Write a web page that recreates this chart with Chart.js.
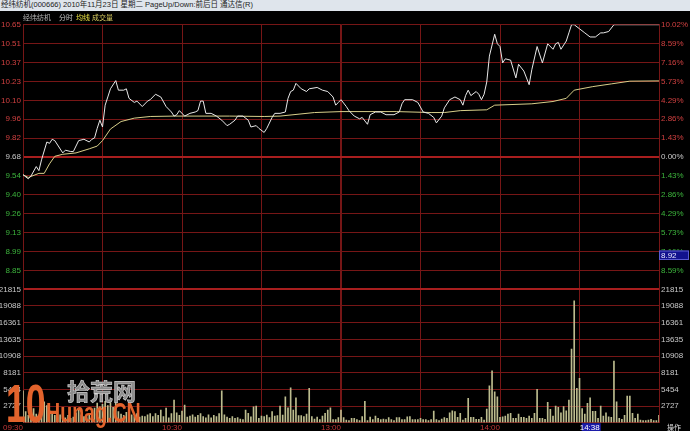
<!DOCTYPE html>
<html>
<head>
<meta charset="utf-8">
<script src="https://cdn.jsdelivr.net/npm/chart.js@4"></script>
<style>
  html, body { margin: 0; padding: 0; background: #000; }
  #wrap { position: relative; width: 690px; height: 431px; overflow: hidden; background: #000; }
  #titlebar { position: absolute; left: 0; top: 0; width: 690px; height: 11px; background: #dfe5ec;
    color: #222; font: 7.5px 'Liberation Sans', 'Noto Sans CJK SC', sans-serif; line-height: 10px; white-space: nowrap; }
  #titlebar span { padding-left: 1px; }
  .lg { position: absolute; top: 13px; font: 7px 'Noto Sans CJK SC', sans-serif; line-height: 9px; white-space: nowrap; }
  canvas { position: absolute; left: 0; }
</style>
</head>
<body>
<div id="wrap">
  <canvas id="vol" width="690" height="151" style="top:280px"></canvas>
  <canvas id="price" width="690" height="290" style="top:11px"></canvas>
  <div id="titlebar"><span>经纬纺机(000666) 2010年11月23日 星期二 PageUp/Down:前后日 通达信(R)</span></div>
  <div class="lg" style="left:23px;color:#b4b4b4">经纬纺机</div>
  <div class="lg" style="left:59px;color:#c4c4c4">分时</div>
  <div class="lg" style="left:76px;color:#e8e040">均线</div>
  <div class="lg" style="left:92px;color:#d8cc60">成交量</div>
</div>
<script>
'use strict';

// minutes from 09:30 (0..240, lunch break removed)
const priceMin = [0, 2, 3, 5, 6, 7, 9, 10, 11, 12, 15, 16, 18, 19, 21, 23, 25, 26, 27, 28,
  29, 30, 31, 32, 33, 35, 36, 38, 39, 40, 42, 43, 45, 47, 48, 50, 52, 54, 56, 57,
  58, 59, 61, 63, 65, 66, 67, 68, 69, 71, 73, 75, 77, 78, 80, 81, 83, 85, 86, 88,
  89, 91, 92, 94, 95, 97, 99, 100, 101, 102, 103, 105, 107, 108, 111, 113, 115, 117, 118, 119,
  120, 122, 123, 125, 127, 128, 130, 131, 133, 135, 137, 140, 142, 143, 144, 147, 149, 151, 153, 155,
  156, 158, 159, 161, 163, 165, 166, 167, 168, 169, 171, 172, 173, 174, 175, 176, 178, 179, 180, 181,
  182, 184, 186, 187, 189, 191, 192, 194, 196, 198, 200, 201, 202, 203, 205, 206, 207, 208, 210, 212,
  214, 216, 218, 219, 221, 223, 240];
const priceVal = [9.55, 9.52, 9.54, 9.61, 9.58, 9.66, 9.79, 9.78, 9.81, 9.80, 9.71, 9.73, 9.72, 9.72, 9.80, 9.81, 9.79, 9.81, 9.82, 9.89,
  9.95, 9.90, 10.06, 10.12, 10.18, 10.24, 10.17, 10.17, 10.18, 10.11, 10.08, 10.09, 10.05, 10.09, 10.10, 10.14, 10.12, 10.05, 10.01, 9.98,
  9.99, 10.02, 9.98, 10.00, 10.01, 10.02, 10.09, 10.09, 10.00, 10.00, 9.98, 9.95, 9.91, 9.92, 9.95, 9.98, 9.98, 9.95, 9.90, 9.91,
  9.89, 9.86, 9.89, 9.97, 10.00, 10.00, 10.01, 10.11, 10.16, 10.17, 10.22, 10.18, 10.16, 10.18, 10.19, 10.17, 10.16, 10.12, 10.06, 10.08,
  10.10, 10.05, 10.02, 9.98, 9.96, 9.97, 9.92, 9.99, 10.01, 10.01, 9.99, 9.99, 10.01, 10.07, 10.10, 10.10, 10.08, 10.01, 10.00, 9.97,
  9.93, 9.98, 10.04, 10.10, 10.12, 10.10, 10.06, 10.13, 10.17, 10.13, 10.16, 10.14, 10.10, 10.14, 10.23, 10.42, 10.58, 10.51, 10.49, 10.37,
  10.40, 10.39, 10.26, 10.36, 10.31, 10.21, 10.32, 10.49, 10.37, 10.51, 10.47, 10.51, 10.52, 10.47, 10.53, 10.59, 10.65, 10.65, 10.62, 10.59,
  10.56, 10.56, 10.59, 10.59, 10.60, 10.65, 10.65];

const avgMin = [0, 2, 6, 8, 10, 12, 15, 20, 25, 28, 30, 33, 37, 42, 48, 57, 78, 91, 97, 110,
  120, 141, 154, 159, 165, 175, 178, 192, 200, 205, 208, 215, 222, 229, 240];
const avgVal = [9.55, 9.53, 9.56, 9.56, 9.63, 9.685, 9.70, 9.71, 9.74, 9.76, 9.80, 9.885, 9.94, 9.965, 9.977, 9.98, 9.98, 9.977, 9.98, 10.006,
  10.013, 10.013, 10.006, 10.006, 10.02, 10.026, 10.06, 10.07, 10.087, 10.11, 10.17, 10.196, 10.216, 10.236, 10.238];

// volume per minute, 241 values
const volume = [
  5200, 1800, 1200, 1500, 2300, 1400, 1100, 2600, 3400, 2800, 2000, 1500, 1200, 900, 1300, 1000, 800, 1200, 700, 900,
  1600, 2100, 1300, 1000, 800, 1200, 1500, 2400, 3200, 2600, 3000, 3500, 2800, 3300, 2500, 3600, 1800, 1400, 1200, 1700,
  2200, 1300, 1000, 1500, 900, 1100,
  1000, 1300, 1500, 1000, 1500, 1200, 2070, 1000, 2400, 800, 1500, 3700, 1600, 1200, 1900, 2900, 900, 1100, 1300, 900,
  1200, 1500, 1000, 800, 1300, 800, 1200, 1000, 1500, 5200, 1300, 900, 700, 1000, 700,
  820, 600, 490, 2070, 1530, 980, 2600, 2720, 710, 1100, 1000, 1250, 820, 1800, 1100, 1150, 2720, 1250, 4250, 2450,
  5720, 2070, 4080, 1150, 1150, 1000, 1400, 5610, 1000, 600, 900, 490, 1100, 1530, 2070, 2450, 490, 490, 820, 2070,
  820, 440, 330, 710, 710, 490, 330, 1000, 3500, 330, 900, 490, 1100, 710, 490, 600, 490, 820, 490, 330,
  820, 820, 490, 490, 950, 1000, 490, 490, 490, 710, 490, 490, 330, 490, 1900, 490, 330, 600,
  820,
  710, 1630, 1960, 1800, 880, 1530, 440, 710, 3990, 880, 880, 550, 550, 880, 440, 2240, 6040, 8490, 5060, 4250,
  880, 980, 1090, 1420, 1530, 710, 710, 1420, 880, 880, 710, 1090, 710, 1530, 5450, 710, 710, 550, 3330, 2180,
  1090, 2730, 2510, 1630, 2620, 1960, 3700, 12030, 19920, 5620, 7250, 2290, 1420, 3170, 4080, 1850, 1850, 710, 2730, 1090,
  1630, 980, 880, 10070, 3430, 710, 550, 1200, 4360, 4360, 1530, 710, 1420, 440, 330, 330, 440, 550, 330, 330,
  1200];

const preClose = 9.68;
const priceTop = 10.65;
const priceLabels = ['10.65', '10.51', '10.37', '10.23', '10.10', '9.96', '9.82', '9.68', '9.54', '9.40', '9.26', '9.13', '8.99', '8.85'];
const pctLabels = ['10.02%', '8.59%', '7.16%', '5.73%', '4.29%', '2.86%', '1.43%', '0.00%', '1.43%', '2.86%', '4.29%', '5.73%', '7.16%', '8.59%'];
const volTop = 21815;
const volLabels = ['21815', '19088', '16361', '13635', '10908', '8181', '5454', '2727'];
const timeTicks = [0, 60, 120, 180];
const timeLabels = ['09:30', '10:30', '13:00', '14:00'];
const cursorTime = { min: 218, label: '14:38' };
const cursorPrice = '8.92';

const gridDark = '#761616';
const gridBright = '#a81e1e';
const upColor = '#d04040';
const downColor = '#3cb43c';
const flatColor = '#c8c8c8';
const tickFont = { family: 'Liberation Sans', size: 8 };

const step = (priceTop - preClose) / 7;
const priceLow = preClose - 7 * step;
const priceTickVals = [];
for (let i = 0; i <= 14; i++) priceTickVals.push(priceLow + i * step);
const volTickVals = [];
for (let i = 0; i <= 8; i++) volTickVals.push(volTop * i / 8);

const xGrid = {
  color: gridDark,
  lineWidth: c => (c.tick && c.tick.value === 120 ? 2 : 1),
  drawTicks: false,
  offset: false
};

function priceTickColor(c) {
  if (c.index === 7) return flatColor;
  return c.index > 7 ? upColor : downColor;
}

const priceBox = {
  id: 'priceBox',
  afterDraw(chart) {
    const ctx = chart.ctx;
    const a = chart.chartArea;
    const y = chart.scales.yr.getPixelForValue(priceTickVals[2]);
    ctx.save();
    ctx.fillStyle = '#12128e';
    ctx.fillRect(a.right, y - 1, 30, 9.5);
    ctx.strokeStyle = '#5a5ad0';
    ctx.lineWidth = 1;
    ctx.strokeRect(a.right + 0.5, y - 0.5, 29, 8.5);
    ctx.fillStyle = '#e8e8ff';
    ctx.font = '8px Liberation Sans';
    ctx.textBaseline = 'middle';
    ctx.fillText(cursorPrice, a.right + 2, y + 4);
    ctx.restore();
  }
};

const volExtras = {
  id: 'volExtras',
  afterDraw(chart) {
    const ctx = chart.ctx;
    const a = chart.chartArea;
    const xr = chart.scales.x.getPixelForValue(cursorTime.min);
    ctx.save();
    // time cursor box
    ctx.fillStyle = '#1c1ca8';
    ctx.fillRect(xr - 19, a.bottom + 0.5, 19, 8);
    ctx.fillStyle = '#ffffff';
    ctx.font = '8px Liberation Sans';
    ctx.textBaseline = 'middle';
    ctx.textAlign = 'right';
    ctx.fillText(cursorTime.label, xr - 1, a.bottom + 4.6);
    ctx.textAlign = 'left';
    ctx.fillStyle = '#e0e0e0';
    ctx.font = '7px Noto Sans CJK SC';
    ctx.fillText('操作', a.right + 8, a.bottom + 4.6);

    // watermark
    ctx.textBaseline = 'alphabetic';
    ctx.fillStyle = '#e2632c';
    ctx.save();
    ctx.translate(6, a.bottom - 1);
    ctx.scale(0.66, 1);
    ctx.font = 'bold 54px Liberation Sans';
    ctx.fillText('10', 0, 0);
    ctx.restore();
    ctx.save();
    ctx.translate(46, a.bottom - 1);
    ctx.scale(0.7, 1);
    ctx.font = 'bold 28px Liberation Sans';
    ctx.fillText('Hunag.CN', 0, 0);
    ctx.restore();
    ctx.font = 'bold 23px Noto Sans CJK SC';
    ctx.fillStyle = '#8c8c8c';
    ctx.strokeStyle = '#d8d8d8';
    ctx.lineWidth = 0.6;
    ctx.fillText('拾荒网', 67, a.bottom - 22.5);
    ctx.strokeText('拾荒网', 67, a.bottom - 22.5);
    ctx.restore();
  }
};

new Chart(document.getElementById('price').getContext('2d'), {
  type: 'line',
  data: {
    datasets: [{
      data: priceMin.map((m, i) => ({ x: m, y: priceVal[i] })),
      borderColor: '#e8e8e8',
      borderWidth: 1,
      pointRadius: 0,
      tension: 0,
      yAxisID: 'y'
    }, {
      data: avgMin.map((m, i) => ({ x: m, y: avgVal[i] })),
      borderColor: '#d8cf8a',
      borderWidth: 1,
      pointRadius: 0,
      tension: 0,
      yAxisID: 'y'
    }]
  },
  options: {
    responsive: false,
    animation: false,
    layout: { padding: { top: 13.7, bottom: 11.7, left: 0, right: 0 } },
    plugins: { legend: { display: false }, tooltip: { enabled: false } },
    scales: {
      x: {
        type: 'linear', min: 0, max: 240, offset: false,
        ticks: { display: false, stepSize: 30 },
        grid: xGrid,
        border: { display: false }
      },
      y: {
        position: 'left', min: priceLow, max: priceTop,
        afterBuildTicks: s => { s.ticks = priceTickVals.map(v => ({ value: v })); },
        afterFit: s => { s.width = 23; },
        ticks: {
          callback: (v, i) => (i === 0 ? '' : priceLabels[14 - i]),
          color: priceTickColor, font: tickFont, padding: 2
        },
        grid: {
          color: c => (c.index === 7 || c.index === 0 ? gridBright : gridDark),
          lineWidth: c => (c.index === 7 || c.index === 0 ? 2 : 1),
          drawTicks: false
        },
        border: { display: true, color: gridDark, width: 1 }
      },
      yr: {
        position: 'right', min: priceLow, max: priceTop,
        afterBuildTicks: s => { s.ticks = priceTickVals.map(v => ({ value: v })); },
        afterFit: s => { s.width = 31; },
        ticks: {
          callback: (v, i) => (i === 0 ? '' : pctLabels[14 - i]),
          color: priceTickColor, font: tickFont, padding: 2
        },
        grid: { display: false, drawTicks: false },
        border: { display: true, color: gridDark, width: 1 }
      }
    }
  },
  plugins: [priceBox]
});

new Chart(document.getElementById('vol').getContext('2d'), {
  type: 'bar',
  data: {
    datasets: [{
      data: volume.map((v, i) => ({ x: i, y: v })),
      backgroundColor: '#bcbc8e',
      borderWidth: 0,
      barThickness: 1,
      yAxisID: 'yv'
    }]
  },
  options: {
    responsive: false,
    animation: false,
    layout: { padding: { top: 9.3, bottom: 0, left: 0, right: 0 } },
    plugins: { legend: { display: false }, tooltip: { enabled: false } },
    scales: {
      x: {
        type: 'linear', min: 0, max: 240, offset: false,
        afterFit: s => { s.height = 8.3; },
        ticks: {
          stepSize: 30, autoSkip: false, maxRotation: 0, align: 'end', padding: 0,
          callback: v => { const k = timeTicks.indexOf(v); return k < 0 ? '' : timeLabels[k]; },
          color: '#c03838', font: tickFont
        },
        grid: xGrid,
        border: { display: false }
      },
      yv: {
        position: 'left', min: 0, max: volTop,
        afterBuildTicks: s => { s.ticks = volTickVals.map(v => ({ value: v })); },
        afterFit: s => { s.width = 23; },
        ticks: {
          callback: (v, i) => (i === 0 ? '' : volLabels[8 - i]),
          color: '#c8c8c8', font: tickFont, padding: 2
        },
        grid: {
          color: c => (c.index === 8 ? gridBright : gridDark),
          lineWidth: c => (c.index === 8 ? 2 : 1),
          drawTicks: false
        },
        border: { display: true, color: gridDark, width: 1 }
      },
      yvr: {
        position: 'right', min: 0, max: volTop,
        afterBuildTicks: s => { s.ticks = volTickVals.map(v => ({ value: v })); },
        afterFit: s => { s.width = 31; },
        ticks: {
          callback: (v, i) => (i === 0 ? '' : volLabels[8 - i]),
          color: '#c8c8c8', font: tickFont, padding: 2
        },
        grid: { display: false, drawTicks: false },
        border: { display: true, color: gridDark, width: 1 }
      }
    }
  },
  plugins: [volExtras]
});
</script>
</body>
</html>
